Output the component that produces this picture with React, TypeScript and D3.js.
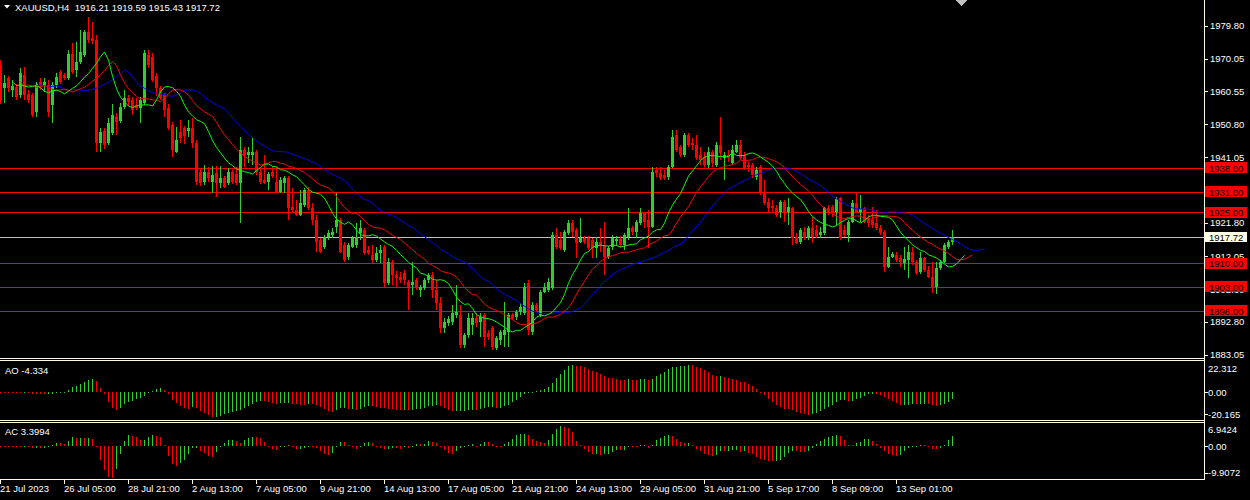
import { useEffect } from "react";
import * as d3 from "d3";

// XAUUSD H4 candles: [open, high, low, close]
const ohlc: [number, number, number, number][] = [
  [1968.3, 1969.7, 1956.8, 1958.0], [1961.5, 1965.3, 1957.1, 1963.0], [1964.4, 1965.0, 1960.3, 1961.5],
  [1960.9, 1963.8, 1958.8, 1962.1], [1961.8, 1962.7, 1958.0, 1958.8], [1959.4, 1967.4, 1958.6, 1965.9],
  [1965.3, 1967.7, 1958.0, 1959.4], [1959.7, 1960.9, 1957.1, 1958.0], [1959.4, 1960.0, 1953.0, 1953.6],
  [1954.4, 1963.3, 1953.0, 1962.7], [1963.3, 1964.4, 1960.9, 1962.1], [1962.1, 1964.4, 1960.3, 1963.3],
  [1962.4, 1963.8, 1953.0, 1954.4], [1956.5, 1963.3, 1951.2, 1962.4], [1962.4, 1965.9, 1961.5, 1964.7],
  [1966.2, 1966.8, 1962.7, 1963.3], [1965.3, 1965.9, 1963.8, 1964.4], [1964.4, 1972.7, 1963.8, 1971.5],
  [1971.5, 1974.7, 1965.6, 1966.2], [1966.8, 1975.0, 1964.7, 1969.1], [1969.1, 1978.5, 1968.5, 1972.1],
  [1971.2, 1978.5, 1970.6, 1978.0], [1978.0, 1982.4, 1974.7, 1975.6], [1976.2, 1980.9, 1974.4, 1975.3],
  [1975.6, 1977.1, 1942.7, 1945.3], [1945.3, 1949.7, 1942.7, 1948.6], [1948.9, 1949.7, 1943.6, 1944.7],
  [1945.3, 1952.7, 1944.7, 1951.2], [1948.3, 1956.8, 1947.7, 1953.6], [1953.0, 1954.1, 1947.7, 1951.5],
  [1951.8, 1957.1, 1951.2, 1955.9], [1955.9, 1960.9, 1955.3, 1958.6], [1958.6, 1959.4, 1956.2, 1957.4],
  [1958.0, 1958.8, 1953.6, 1955.0], [1956.5, 1958.6, 1955.0, 1955.6], [1955.6, 1958.8, 1951.2, 1958.0],
  [1957.1, 1972.7, 1956.5, 1971.8], [1971.2, 1972.7, 1967.4, 1968.3], [1970.6, 1971.8, 1963.3, 1963.8],
  [1965.0, 1965.9, 1959.1, 1961.5], [1961.5, 1962.1, 1958.0, 1958.6], [1959.4, 1960.0, 1953.0, 1955.0],
  [1955.6, 1956.8, 1949.1, 1949.7], [1950.6, 1951.5, 1941.2, 1943.3], [1942.7, 1950.0, 1942.4, 1946.2],
  [1948.6, 1952.1, 1945.3, 1946.8], [1949.7, 1950.3, 1945.0, 1947.4], [1948.9, 1952.1, 1947.1, 1949.7],
  [1949.7, 1952.7, 1943.9, 1945.3], [1945.3, 1946.2, 1933.0, 1933.9], [1936.8, 1938.0, 1932.7, 1933.6],
  [1933.9, 1938.9, 1933.0, 1936.8], [1936.8, 1938.3, 1933.9, 1935.0], [1933.9, 1938.6, 1930.6, 1935.9],
  [1936.5, 1938.6, 1929.4, 1933.6], [1933.6, 1938.6, 1932.1, 1935.0], [1935.0, 1935.6, 1932.1, 1932.4],
  [1933.6, 1938.0, 1933.0, 1936.8], [1936.8, 1937.4, 1933.3, 1933.9], [1936.2, 1938.3, 1933.0, 1933.6],
  [1933.6, 1947.1, 1921.8, 1943.3], [1943.3, 1944.1, 1938.3, 1941.8], [1941.8, 1944.1, 1939.4, 1942.7],
  [1941.8, 1946.8, 1938.9, 1942.7], [1942.7, 1943.3, 1935.9, 1936.8], [1936.8, 1938.0, 1933.3, 1933.9],
  [1934.4, 1941.8, 1933.3, 1933.6], [1933.9, 1936.8, 1931.5, 1936.2], [1936.8, 1938.3, 1935.0, 1935.6],
  [1933.9, 1938.3, 1930.6, 1930.9], [1930.9, 1935.3, 1930.6, 1934.4], [1933.6, 1935.6, 1930.6, 1935.0],
  [1935.0, 1935.6, 1922.7, 1926.2], [1926.5, 1932.1, 1924.7, 1925.6], [1925.6, 1928.6, 1923.9, 1924.2],
  [1924.2, 1931.5, 1923.9, 1927.7], [1927.1, 1932.1, 1926.5, 1931.5], [1931.5, 1932.4, 1925.6, 1926.2],
  [1926.2, 1927.7, 1921.2, 1922.7], [1922.7, 1924.2, 1913.3, 1916.2], [1916.8, 1917.4, 1913.0, 1913.3],
  [1914.7, 1918.3, 1914.2, 1917.7], [1917.7, 1919.7, 1916.8, 1918.9], [1918.3, 1920.3, 1917.4, 1919.2],
  [1920.6, 1930.6, 1918.9, 1922.7], [1922.7, 1923.3, 1913.0, 1913.3], [1915.3, 1916.2, 1910.3, 1910.9],
  [1911.8, 1915.9, 1910.9, 1915.3], [1914.7, 1918.0, 1914.5, 1917.4], [1915.3, 1921.8, 1914.5, 1917.7],
  [1918.9, 1922.7, 1916.8, 1920.3], [1919.7, 1920.3, 1912.4, 1913.0], [1913.9, 1915.0, 1912.4, 1913.0],
  [1912.4, 1915.3, 1910.0, 1910.9], [1910.9, 1914.7, 1910.3, 1913.0], [1913.0, 1915.3, 1910.0, 1913.9],
  [1914.7, 1915.3, 1902.7, 1904.2], [1904.2, 1911.5, 1903.6, 1910.3], [1910.3, 1910.9, 1903.6, 1906.5],
  [1906.5, 1907.7, 1903.0, 1905.6], [1905.9, 1907.4, 1904.2, 1905.0], [1907.1, 1908.0, 1903.6, 1905.0],
  [1904.5, 1905.0, 1896.2, 1903.0], [1903.6, 1910.3, 1900.6, 1904.5], [1905.0, 1905.6, 1902.1, 1903.0],
  [1902.1, 1903.6, 1900.0, 1903.0], [1902.7, 1905.6, 1902.1, 1905.0], [1905.0, 1907.1, 1904.2, 1906.5],
  [1906.5, 1907.4, 1899.8, 1902.1], [1902.1, 1905.0, 1896.2, 1898.3], [1898.3, 1900.0, 1889.5, 1890.9],
  [1890.9, 1893.9, 1889.5, 1892.7], [1892.4, 1894.5, 1891.5, 1893.6], [1892.7, 1897.7, 1891.8, 1895.3],
  [1894.8, 1903.6, 1893.9, 1895.6], [1894.8, 1897.7, 1885.1, 1885.9], [1885.9, 1889.5, 1885.1, 1888.9],
  [1888.9, 1895.3, 1888.0, 1893.9], [1891.8, 1895.3, 1888.9, 1893.9], [1893.9, 1895.3, 1891.2, 1892.4],
  [1892.7, 1895.3, 1888.3, 1894.2], [1894.8, 1895.3, 1885.3, 1888.3], [1889.5, 1890.3, 1887.4, 1888.3],
  [1890.9, 1891.5, 1884.5, 1885.3], [1885.0, 1888.6, 1884.5, 1888.0], [1887.4, 1890.3, 1885.9, 1889.8],
  [1888.9, 1898.6, 1885.3, 1890.3], [1889.8, 1895.3, 1885.3, 1894.8], [1894.8, 1895.3, 1893.3, 1893.9],
  [1894.2, 1896.2, 1893.3, 1895.6], [1895.6, 1898.3, 1894.8, 1897.1], [1895.3, 1904.2, 1894.8, 1903.0],
  [1904.2, 1905.0, 1888.9, 1890.3], [1889.8, 1898.6, 1888.9, 1897.7], [1897.7, 1898.3, 1895.6, 1896.2],
  [1894.8, 1902.1, 1894.2, 1901.5], [1901.5, 1904.2, 1901.2, 1903.0], [1902.1, 1905.6, 1901.5, 1904.5],
  [1902.7, 1919.2, 1902.1, 1918.3], [1918.3, 1920.3, 1914.2, 1914.7], [1916.8, 1919.2, 1913.9, 1914.5],
  [1913.9, 1919.7, 1913.3, 1919.2], [1918.9, 1922.7, 1918.3, 1921.8], [1921.8, 1922.7, 1917.7, 1919.2],
  [1919.7, 1920.3, 1911.5, 1915.9], [1916.2, 1923.3, 1915.9, 1917.4], [1917.4, 1918.0, 1915.6, 1916.2],
  [1917.4, 1918.0, 1913.9, 1914.5], [1916.8, 1917.4, 1911.5, 1914.5], [1914.5, 1917.7, 1911.5, 1916.2],
  [1916.2, 1920.3, 1913.3, 1915.3], [1915.3, 1922.1, 1906.5, 1911.8], [1911.8, 1915.0, 1911.2, 1914.5],
  [1914.7, 1918.3, 1913.9, 1917.4], [1916.5, 1918.0, 1915.0, 1917.1], [1917.1, 1918.0, 1914.5, 1915.3],
  [1915.3, 1918.9, 1913.9, 1918.3], [1917.7, 1926.2, 1916.8, 1920.3], [1920.3, 1920.9, 1918.3, 1919.2],
  [1919.2, 1922.7, 1917.4, 1922.1], [1921.8, 1926.2, 1921.2, 1924.7], [1924.7, 1925.0, 1920.3, 1922.1],
  [1922.7, 1925.6, 1914.5, 1920.6], [1920.6, 1938.3, 1920.3, 1936.8], [1937.4, 1938.3, 1935.3, 1936.5],
  [1936.5, 1938.3, 1934.4, 1935.0], [1935.9, 1937.4, 1934.4, 1935.0], [1935.3, 1938.9, 1934.4, 1938.3],
  [1938.3, 1949.1, 1938.0, 1947.1], [1947.7, 1949.1, 1942.7, 1943.3], [1944.1, 1944.7, 1941.2, 1941.8],
  [1941.8, 1948.3, 1941.2, 1947.7], [1947.7, 1948.3, 1944.1, 1944.7], [1945.3, 1946.8, 1943.3, 1944.7],
  [1944.7, 1947.7, 1940.3, 1940.9], [1941.8, 1944.1, 1938.9, 1940.3], [1941.2, 1942.7, 1938.3, 1938.9],
  [1938.9, 1944.1, 1938.0, 1942.7], [1942.7, 1943.3, 1938.3, 1939.4], [1938.9, 1945.6, 1938.3, 1944.7],
  [1944.7, 1953.0, 1940.3, 1942.4], [1940.9, 1942.7, 1934.4, 1941.8], [1941.8, 1943.3, 1939.7, 1940.9],
  [1939.4, 1944.7, 1938.9, 1943.3], [1942.7, 1946.2, 1942.4, 1944.7], [1944.7, 1946.2, 1940.3, 1940.9],
  [1941.8, 1942.7, 1937.4, 1938.0], [1938.9, 1939.7, 1936.8, 1938.3], [1938.9, 1939.4, 1935.0, 1935.9],
  [1935.3, 1938.3, 1934.4, 1937.4], [1938.3, 1938.9, 1930.0, 1930.6], [1930.9, 1934.4, 1927.1, 1927.7],
  [1928.0, 1929.2, 1925.0, 1926.2], [1926.8, 1928.6, 1925.0, 1926.2], [1926.2, 1927.1, 1923.6, 1924.2],
  [1925.0, 1928.6, 1923.3, 1928.0], [1928.0, 1928.6, 1922.1, 1925.0], [1925.0, 1929.2, 1921.2, 1926.5],
  [1926.2, 1926.5, 1915.3, 1917.4], [1917.7, 1918.9, 1915.6, 1915.9], [1916.2, 1920.3, 1915.6, 1919.7],
  [1919.2, 1920.6, 1916.8, 1917.4], [1917.4, 1920.9, 1916.8, 1920.3], [1920.3, 1923.6, 1915.9, 1917.7],
  [1919.7, 1921.2, 1917.4, 1918.0], [1918.3, 1920.6, 1917.4, 1919.2], [1918.9, 1926.5, 1918.3, 1926.2],
  [1926.2, 1927.1, 1924.2, 1925.0], [1926.5, 1927.1, 1923.6, 1924.7], [1925.0, 1929.4, 1921.2, 1928.9],
  [1929.2, 1929.4, 1916.8, 1917.4], [1919.7, 1921.2, 1917.7, 1918.3], [1918.3, 1922.7, 1916.2, 1922.1],
  [1922.1, 1928.6, 1921.8, 1927.7], [1927.7, 1930.9, 1924.7, 1925.0], [1925.0, 1930.0, 1922.1, 1925.9],
  [1926.2, 1926.5, 1921.8, 1922.1], [1923.3, 1924.2, 1920.6, 1921.8], [1922.7, 1926.5, 1920.3, 1921.2],
  [1921.8, 1925.6, 1919.7, 1920.3], [1920.3, 1921.2, 1918.3, 1918.9], [1919.2, 1919.7, 1907.4, 1908.9],
  [1908.9, 1914.7, 1908.6, 1911.8], [1911.8, 1913.3, 1911.5, 1912.7], [1912.4, 1913.3, 1910.3, 1910.9],
  [1911.5, 1912.4, 1908.9, 1910.3], [1910.0, 1914.7, 1908.0, 1911.2], [1910.9, 1915.3, 1905.6, 1913.3],
  [1913.3, 1914.7, 1909.5, 1910.3], [1910.3, 1910.9, 1906.5, 1907.1], [1907.4, 1913.3, 1906.8, 1911.5],
  [1911.5, 1911.8, 1907.4, 1908.0], [1908.0, 1909.2, 1905.6, 1905.9], [1905.9, 1910.3, 1901.2, 1903.0],
  [1903.0, 1910.3, 1900.9, 1908.6], [1908.6, 1910.9, 1908.0, 1910.3], [1910.3, 1915.9, 1910.0, 1915.3],
  [1914.7, 1916.8, 1914.2, 1916.2], [1916.21, 1919.59, 1915.43, 1917.72],
];

const timeLabels = [
  "21 Jul 2023", "26 Jul 05:00", "28 Jul 21:00", "2 Aug 13:00", "7 Aug 05:00",
  "9 Aug 21:00", "14 Aug 13:00", "17 Aug 05:00", "21 Aug 21:00", "24 Aug 13:00",
  "29 Aug 05:00", "31 Aug 21:00", "5 Sep 17:00", "8 Sep 09:00", "13 Sep 01:00",
];
const barsPerLabel = 16;

const priceTicks = [1979.8, 1970.05, 1960.55, 1950.8, 1941.05, 1931.3, 1921.8, 1912.05, 1902.3, 1892.8, 1883.05];
const levels = [1938, 1931, 1925, 1910, 1903, 1896];
const aoTicks = [22.312, 0, -20.165];
const acTicks = [6.9424, 0, -9.9072];

// Alligator: [period, shift, colour]
const alligator: [number, number, string][] = [
  [13, 8, "#0000ff"],
  [8, 5, "#ff0000"],
  [5, 3, "#00ff00"],
];

const title = "XAUUSD,H4  1916.21 1919.59 1915.43 1917.72";
const aoTitle = "AO -4.334";
const acTitle = "AC 3.3994";

const BULL = "#32cd32";
const BEAR = "#ff0000";
const FG = "#fffbe0";
const FONT = "'Liberation Sans', Arial, sans-serif";

function smma(src: number[], n: number) {
  const out: number[] = [];
  let prev = 0;
  src.forEach((v, i) => {
    prev = i < n ? (prev * i + v) / (i + 1) : (prev * (n - 1) + v) / n;
    out.push(prev);
  });
  return out;
}

function sma(src: number[], n: number) {
  return src.map((_, i) => d3.mean(src.slice(Math.max(0, i - n + 1), i + 1)) as number);
}

export default function App() {
  useEffect(() => {
    document.body.style.margin = "0";
    document.body.style.background = "#000";
  }, []);

  const W = 1250;
  const H = 500;
  const plotRight = 1204;
  const n = ohlc.length;

  const x = d3.scaleLinear().domain([0, n - 1]).range([0.5, 0.5 + 4 * (n - 1)]);
  const y = d3.scaleLinear().domain([1883.05, 1979.8]).range([354.75, 25.7]);
  const yAO = d3.scaleLinear().domain([-20.165, 22.312]).range([420, 362]);
  const yAC = d3.scaleLinear().domain([-9.9072, 6.9424]).range([478, 424]);

  const median = ohlc.map(d => (d[1] + d[2]) / 2);
  const slow = sma(median, 34);
  const ao = sma(median, 5).map((v, i) => v - slow[i]);
  const aoAvg = sma(ao, 5);
  const ac = ao.map((v, i) => v - aoAvg[i]);
  const last = ohlc[n - 1][3];

  const line = d3.line<[number, number]>().x(d => x(d[0])).y(d => y(d[1]));

  const hist = (vals: number[], sc: d3.ScaleLinear<number, number>) =>
    vals.map((v, i) => {
      const up = i > 0 && v > vals[i - 1];
      const y0 = sc(0);
      const y1 = sc(v);
      return (
        <rect key={i} x={x(i) - 0.5} width={1} y={Math.min(y0, y1)} height={Math.max(1, Math.abs(y1 - y0))}
          fill={up ? BULL : BEAR} />
      );
    });

  const txt = { fontFamily: FONT, fontSize: 9.5 };

  return (
    <svg width={W} height={H} style={{ display: "block", background: "#000" }} shapeRendering="crispEdges">
      <defs>
        <clipPath id="cMain"><rect x={0} y={0} width={plotRight} height={358} /></clipPath>
        <clipPath id="cAO"><rect x={0} y={361} width={plotRight} height={59.5} /></clipPath>
        <clipPath id="cAC"><rect x={0} y={423} width={plotRight} height={56} /></clipPath>
      </defs>
      <rect x={0} y={0} width={W} height={H} fill="#000" />

      {/* main panel */}
      <g clipPath="url(#cMain)">
        {levels.map(v => (
          <line key={v} x1={0} x2={plotRight} y1={Math.round(y(v)) + 0.5} y2={Math.round(y(v)) + 0.5} stroke="#ff0000" />
        ))}
        <line x1={0} x2={plotRight} y1={Math.round(y(last)) + 0.5} y2={Math.round(y(last)) + 0.5} stroke="#c0c0c0" />
        {ohlc.map((d, i) => {
          const [o, h, l, c] = d;
          const col = c > o ? BULL : BEAR;
          const top = y(Math.max(o, c));
          const bot = y(Math.min(o, c));
          return (
            <g key={i}>
              <rect x={x(i) - 0.5} width={1} y={y(h)} height={Math.max(1, y(l) - y(h))} fill={col} />
              <rect x={x(i) - 1.5} width={3} y={top} height={Math.max(1, bot - top)} fill={col} />
            </g>
          );
        })}
        {alligator.map(([p, s, col]) => {
          const vals = smma(median, p);
          const pts: [number, number][] = vals.map((v, i) => [i + s, v]);
          return <path key={p} d={line(pts) ?? ""} fill="none" stroke={col} strokeWidth={1} shapeRendering="auto" />;
        })}
      </g>
      <polygon points="955,0 967,0 961,6" fill="#c0c0c0" />
      <polygon points="4,5 10,5 7,8.5" fill="#fff" shapeRendering="auto" />
      <text x={15} y={7} dominantBaseline="central" fill="#fff" style={{ whiteSpace: "pre" }} {...txt}>{title}</text>

      {/* oscillators */}
      <g clipPath="url(#cAO)">{hist(ao, yAO)}</g>
      <g clipPath="url(#cAC)">{hist(ac, yAC)}</g>
      <text x={5} y={370} dominantBaseline="central" fill="#fff" {...txt}>{aoTitle}</text>
      <text x={5} y={431} dominantBaseline="central" fill="#fff" {...txt}>{acTitle}</text>

      {/* frames */}
      {[358.5, 360.5, 420.5, 422.5, 479.5].map(v => (
        <line key={v} x1={0} x2={plotRight + 1} y1={v} y2={v} stroke={FG} />
      ))}
      <line x1={plotRight + 0.5} x2={plotRight + 0.5} y1={0} y2={480} stroke={FG} />

      {/* price axis */}
      {priceTicks.map(v => (
        <g key={v}>
          <line x1={plotRight} x2={plotRight + 4} y1={Math.round(y(v)) + 0.5} y2={Math.round(y(v)) + 0.5} stroke={FG} />
          <text x={1210} y={y(v)} dominantBaseline="central" fill="#fff" {...txt}>{v.toFixed(2)}</text>
        </g>
      ))}
      {levels.map(v => (
        <g key={v}>
          <rect x={1205} y={y(v) - 5.5} width={42} height={11} fill="#ff0000" />
          <text x={1209} y={y(v) + 0.5} dominantBaseline="central" fill="#000" {...txt}>{v.toFixed(2)}</text>
        </g>
      ))}
      <rect x={1205} y={y(last) - 5} width={42} height={10} fill="#ffffe8" />
      <text x={1209} y={y(last) + 0.5} dominantBaseline="central" fill="#000" {...txt}>{last.toFixed(2)}</text>

      {/* oscillator axes */}
      {aoTicks.map((v, i) => {
        const yy = i === 0 ? yAO(v) + 6 : i === 2 ? yAO(v) - 6 : yAO(v);
        return (
          <g key={v}>
            {i > 0 && <line x1={plotRight} x2={plotRight + 4} y1={Math.round(yy) + 0.5} y2={Math.round(yy) + 0.5} stroke={FG} />}
            <text x={1208} y={yy} dominantBaseline="central" fill="#fff" {...txt}>{i === 1 ? "0.00" : String(v)}</text>
          </g>
        );
      })}
      {acTicks.map((v, i) => {
        const yy = i === 0 ? yAC(v) + 5 : i === 2 ? yAC(v) - 5.5 : yAC(v);
        return (
          <g key={v}>
            {i > 0 && <line x1={plotRight} x2={plotRight + 4} y1={Math.round(yy) + 0.5} y2={Math.round(yy) + 0.5} stroke={FG} />}
            <text x={1208} y={yy} dominantBaseline="central" fill="#fff" {...txt}>{i === 1 ? "0.00" : String(v)}</text>
          </g>
        );
      })}

      {/* time axis */}
      {timeLabels.map((t, k) => {
        const tx = x(k * barsPerLabel);
        return (
          <g key={t}>
            <line x1={tx} x2={tx} y1={480} y2={484} stroke={FG} />
            <text x={tx - 0.5} y={488.5} dominantBaseline="central" fill="#fff" {...txt}>{t}</text>
          </g>
        );
      })}
    </svg>
  );
}
